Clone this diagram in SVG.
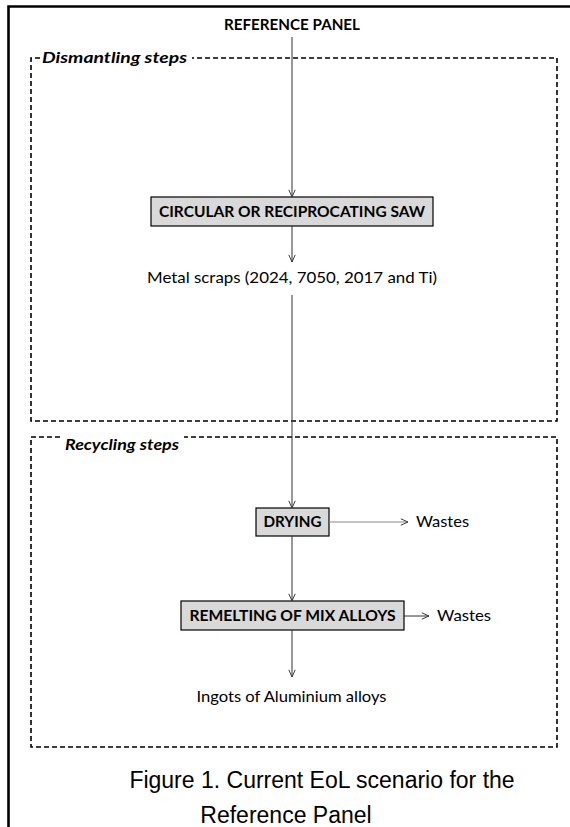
<svg xmlns="http://www.w3.org/2000/svg" width="570" height="827" viewBox="0 0 570 827">
<style>
.frame{stroke:#000;stroke-width:2.6;fill:none}
.dash{stroke:#000;stroke-width:1.6;fill:none;stroke-dasharray:5 3}
.box{fill:#d9d9d9;stroke:#000;stroke-width:1.2}
.lbl{font-family:Lato,"Liberation Sans",sans-serif;font-weight:bold;font-size:15px;fill:#000}
.grp{font-family:Lato,"Liberation Sans",sans-serif;font-weight:bold;font-style:italic;font-size:15px;fill:#000}
.txt{font-family:Lato,"Liberation Sans",sans-serif;font-size:15px;fill:#000}
.cap{font-family:"Liberation Sans",Arial,sans-serif;font-size:23px;fill:#000}
.con{stroke:#333;stroke-width:1;fill:none}
.gray{stroke:#888}
</style>
<defs>
<marker id="ah" viewBox="0 0 10 10" refX="10" refY="5" markerWidth="8" markerHeight="8" markerUnits="userSpaceOnUse" orient="auto">
<path d="M1,1 L10,5 L1,9" fill="none" stroke="#333" stroke-width="1.2"/>
</marker>
</defs>
<rect width="570" height="827" fill="#fff"/>
<g id="frame">
<path class="frame" d="M8.5,827 V6.5 H570"/>
</g>
<g id="dismantling">
<path class="dash" d="M40,58 H31 V421 H557 V58 H192"/>
<text class="grp" x="42" y="63" textLength="145" lengthAdjust="spacingAndGlyphs">Dismantling steps</text>
</g>
<g id="recycling">
<path class="dash" d="M60,437 H31 V747 H557 V437 H184"/>
<text class="grp" x="65" y="450" textLength="114" lengthAdjust="spacingAndGlyphs">Recycling steps</text>
</g>
<g id="reference-panel">
<text class="lbl" x="292" y="30" text-anchor="middle" textLength="136" lengthAdjust="spacingAndGlyphs">REFERENCE PANEL</text>
</g>
<g id="saw">
<rect class="box" x="151" y="197" width="282" height="29"/>
<text class="lbl" x="292" y="217" text-anchor="middle" textLength="266" lengthAdjust="spacingAndGlyphs">CIRCULAR OR RECIPROCATING SAW</text>
</g>
<g id="scraps">
<text class="txt" x="292" y="283" text-anchor="middle" textLength="290" lengthAdjust="spacingAndGlyphs">Metal scraps (2024, 7050, 2017 and Ti)</text>
</g>
<g id="drying">
<rect class="box" x="256" y="508" width="73" height="28"/>
<text class="lbl" x="292.5" y="527" text-anchor="middle" textLength="58" lengthAdjust="spacingAndGlyphs">DRYING</text>
</g>
<g id="wastes1">
<text class="txt" x="416" y="527" textLength="53" lengthAdjust="spacingAndGlyphs">Wastes</text>
</g>
<g id="remelting">
<rect class="box" x="181" y="601" width="223" height="29"/>
<text class="lbl" x="292.5" y="621" text-anchor="middle" textLength="206" lengthAdjust="spacingAndGlyphs">REMELTING OF MIX ALLOYS</text>
</g>
<g id="wastes2">
<text class="txt" x="437" y="621" textLength="54" lengthAdjust="spacingAndGlyphs">Wastes</text>
</g>
<g id="ingots">
<text class="txt" x="291.5" y="702" text-anchor="middle" textLength="190" lengthAdjust="spacingAndGlyphs">Ingots of Aluminium alloys</text>
</g>
<g id="connectors">
<line class="con" x1="292" y1="37" x2="292" y2="197" marker-end="url(#ah)"/>
<line class="con" x1="292" y1="226" x2="292" y2="262" marker-end="url(#ah)"/>
<line class="con" x1="292" y1="295" x2="292" y2="508" marker-end="url(#ah)"/>
<line class="con" x1="292" y1="536" x2="292" y2="601" marker-end="url(#ah)"/>
<line class="con" x1="292" y1="630" x2="292" y2="677" marker-end="url(#ah)"/>
<line class="con gray" x1="329" y1="522" x2="408" y2="522" marker-end="url(#ah)"/>
<line class="con" x1="404" y1="616" x2="429" y2="616" marker-end="url(#ah)"/>
</g>
<g id="caption">
<text class="cap" x="322" y="788" text-anchor="middle">Figure 1. Current EoL scenario for the</text>
<text class="cap" x="286" y="823" text-anchor="middle">Reference Panel</text>
</g>
</svg>
